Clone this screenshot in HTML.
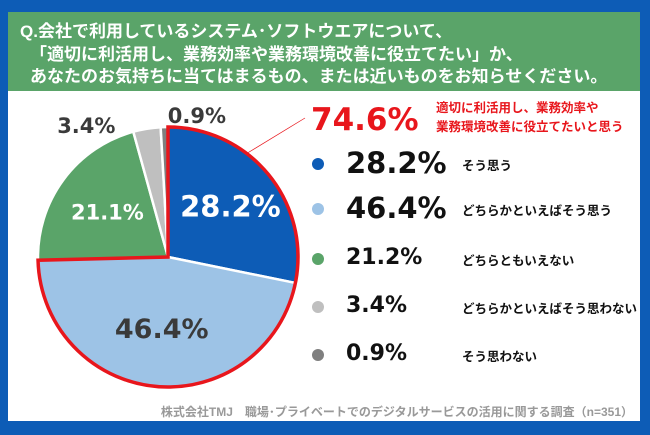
<!DOCTYPE html>
<html><head><meta charset="utf-8"><style>
body{margin:0;width:650px;height:435px;overflow:hidden;font-family:"Liberation Sans","Noto Sans CJK JP",sans-serif;}
#frame{position:absolute;left:0;top:0;width:650px;height:435px;background:#0d5cb6;}
#panel{position:absolute;left:8px;top:12px;width:632px;height:409px;background:#fff;}
#head{position:absolute;left:8px;top:12px;width:632px;height:79px;background:#5aa469;color:#fff;font-weight:bold;font-size:17px;line-height:22.5px;}
.t{position:absolute;white-space:nowrap;}
.pc{font-family:"DejaVu Sans",sans-serif;}
</style></head><body>
<div id="frame"></div>
<div id="panel"></div>
<div id="head">
<div class="t" style="left:12px;top:9px">Q.会社で利用しているシステム･ソフトウエアについて、</div>
<div class="t" style="left:22px;top:32px">「適切に利活用し、業務効率や業務環境改善に役立てたい」か、</div>
<div class="t" style="left:22px;top:54px">あなたのお気持ちに当てはまるもの、または近いものをお知らせください。</div>
</div>
<svg id="chart" width="650" height="435" style="position:absolute;left:0;top:0"></svg>
<div class="t pc" style="left:311px;top:102px;color:#e8161c;font-weight:bold;font-size:31px">74.6%</div>
<div class="t" style="left:436px;top:99px;color:#e8161c;font-weight:bold;font-size:12.5px;line-height:19px">適切に利活用し、業務効率や<br>業務環境改善に役立てたいと思う</div>
<div id="legend"></div>
<div class="t" style="right:17px;top:403px;color:#999;font-weight:bold;font-size:12px">株式会社TMJ　職場･プライベートでのデジタルサービスの活用に関する調査（n=351）</div>
<script>
const categories=["そう思う","どちらかといえばそう思う","どちらともいえない","どちらかといえばそう思わない","そう思わない"];
const pieValues=[28.2,46.4,21.1,3.4,0.9];
const legendValues=[28.2,46.4,21.2,3.4,0.9];
const colors=["#0d5cb6","#9dc3e6","#5aa469","#bfbfbf","#7f7f7f"];
const NS="http://www.w3.org/2000/svg";
const svg=document.getElementById('chart');
const cx=168,cy=257,r=130;
const total=pieValues.reduce((a,b)=>a+b,0);
function pt(a,rr){return [cx+rr*Math.sin(a),cy-rr*Math.cos(a)];}
function arc(a0,a1,rr){const p0=pt(a0,rr),p1=pt(a1,rr);const lg=a1-a0>Math.PI?1:0;
return `M${cx},${cy}L${p0[0]},${p0[1]}A${rr},${rr} 0 ${lg} 1 ${p1[0]},${p1[1]}Z`;}
let a=0;const mids=[];
pieValues.forEach((v,i)=>{const a1=a+v/total*2*Math.PI;
const p=document.createElementNS(NS,'path');p.setAttribute('d',arc(a,a1,r));
p.setAttribute('fill',colors[i]);p.setAttribute('stroke','#fff');p.setAttribute('stroke-width','2.5');


svg.appendChild(p);mids.push((a+a1)/2);a=a1;});
const aEnd=(pieValues[0]+pieValues[1])/total*2*Math.PI;
const o=document.createElementNS(NS,'path');o.setAttribute('d',arc(0,aEnd,r));
o.setAttribute('fill','none');o.setAttribute('stroke','#e8161c');o.setAttribute('stroke-width','3.5');


svg.appendChild(o);
const ln=document.createElementNS(NS,'line');const lp=pt(0.65,r);
ln.setAttribute('x1',lp[0]);ln.setAttribute('y1',lp[1]);ln.setAttribute('x2',305);ln.setAttribute('y2',118);
ln.setAttribute('stroke','#e8161c');ln.setAttribute('stroke-width','0.7');


svg.appendChild(ln);
const lblR=[0.62,0.55,0.58,1.12,1.12],lblSize=[29,27,21,21,21],lblCol=["#fff","#3a3a3a","#fff","#3a3a3a","#3a3a3a"];
const offX=[0,0,0,-58,33],offY=[0,0,0,12,4];
pieValues.forEach((v,i)=>{let p=pt(mids[i],r*lblR[i]);
p=[p[0]+offX[i],p[1]+offY[i]];
const t=document.createElementNS(NS,'text');t.setAttribute('x',p[0]);t.setAttribute('y',p[1]+lblSize[i]*0.36);
t.setAttribute('text-anchor','middle');t.setAttribute('font-size',lblSize[i]);t.setAttribute('font-weight','bold');
t.setAttribute('fill',lblCol[i]);t.setAttribute('font-family','DejaVu Sans, sans-serif');t.textContent=v.toFixed(1)+'%';


svg.appendChild(t);});
const lg=document.getElementById('legend');
const rowY=[164,209,259,307,355],pSize=[29,29,22,22,22];
categories.forEach((c,i)=>{
const d=document.createElement('div');d.className='t';
d.style.cssText=`left:312px;top:${rowY[i]-6}px;width:12px;height:12px;border-radius:50%;background:${colors[i]}`;


lg.appendChild(d);
const p=document.createElement('div');p.className='t pc';
p.style.cssText=`left:346px;top:${rowY[i]-pSize[i]*0.62}px;font-size:${pSize[i]}px;font-weight:bold;color:#111`;
p.textContent=legendValues[i].toFixed(1)+'%';


lg.appendChild(p);
const l=document.createElement('div');l.className='t';
l.style.cssText=`left:462px;top:${rowY[i]-9}px;font-size:12.5px;font-weight:bold;color:#111`;
l.textContent=c;


lg.appendChild(l);});
</script>
</body></html>
